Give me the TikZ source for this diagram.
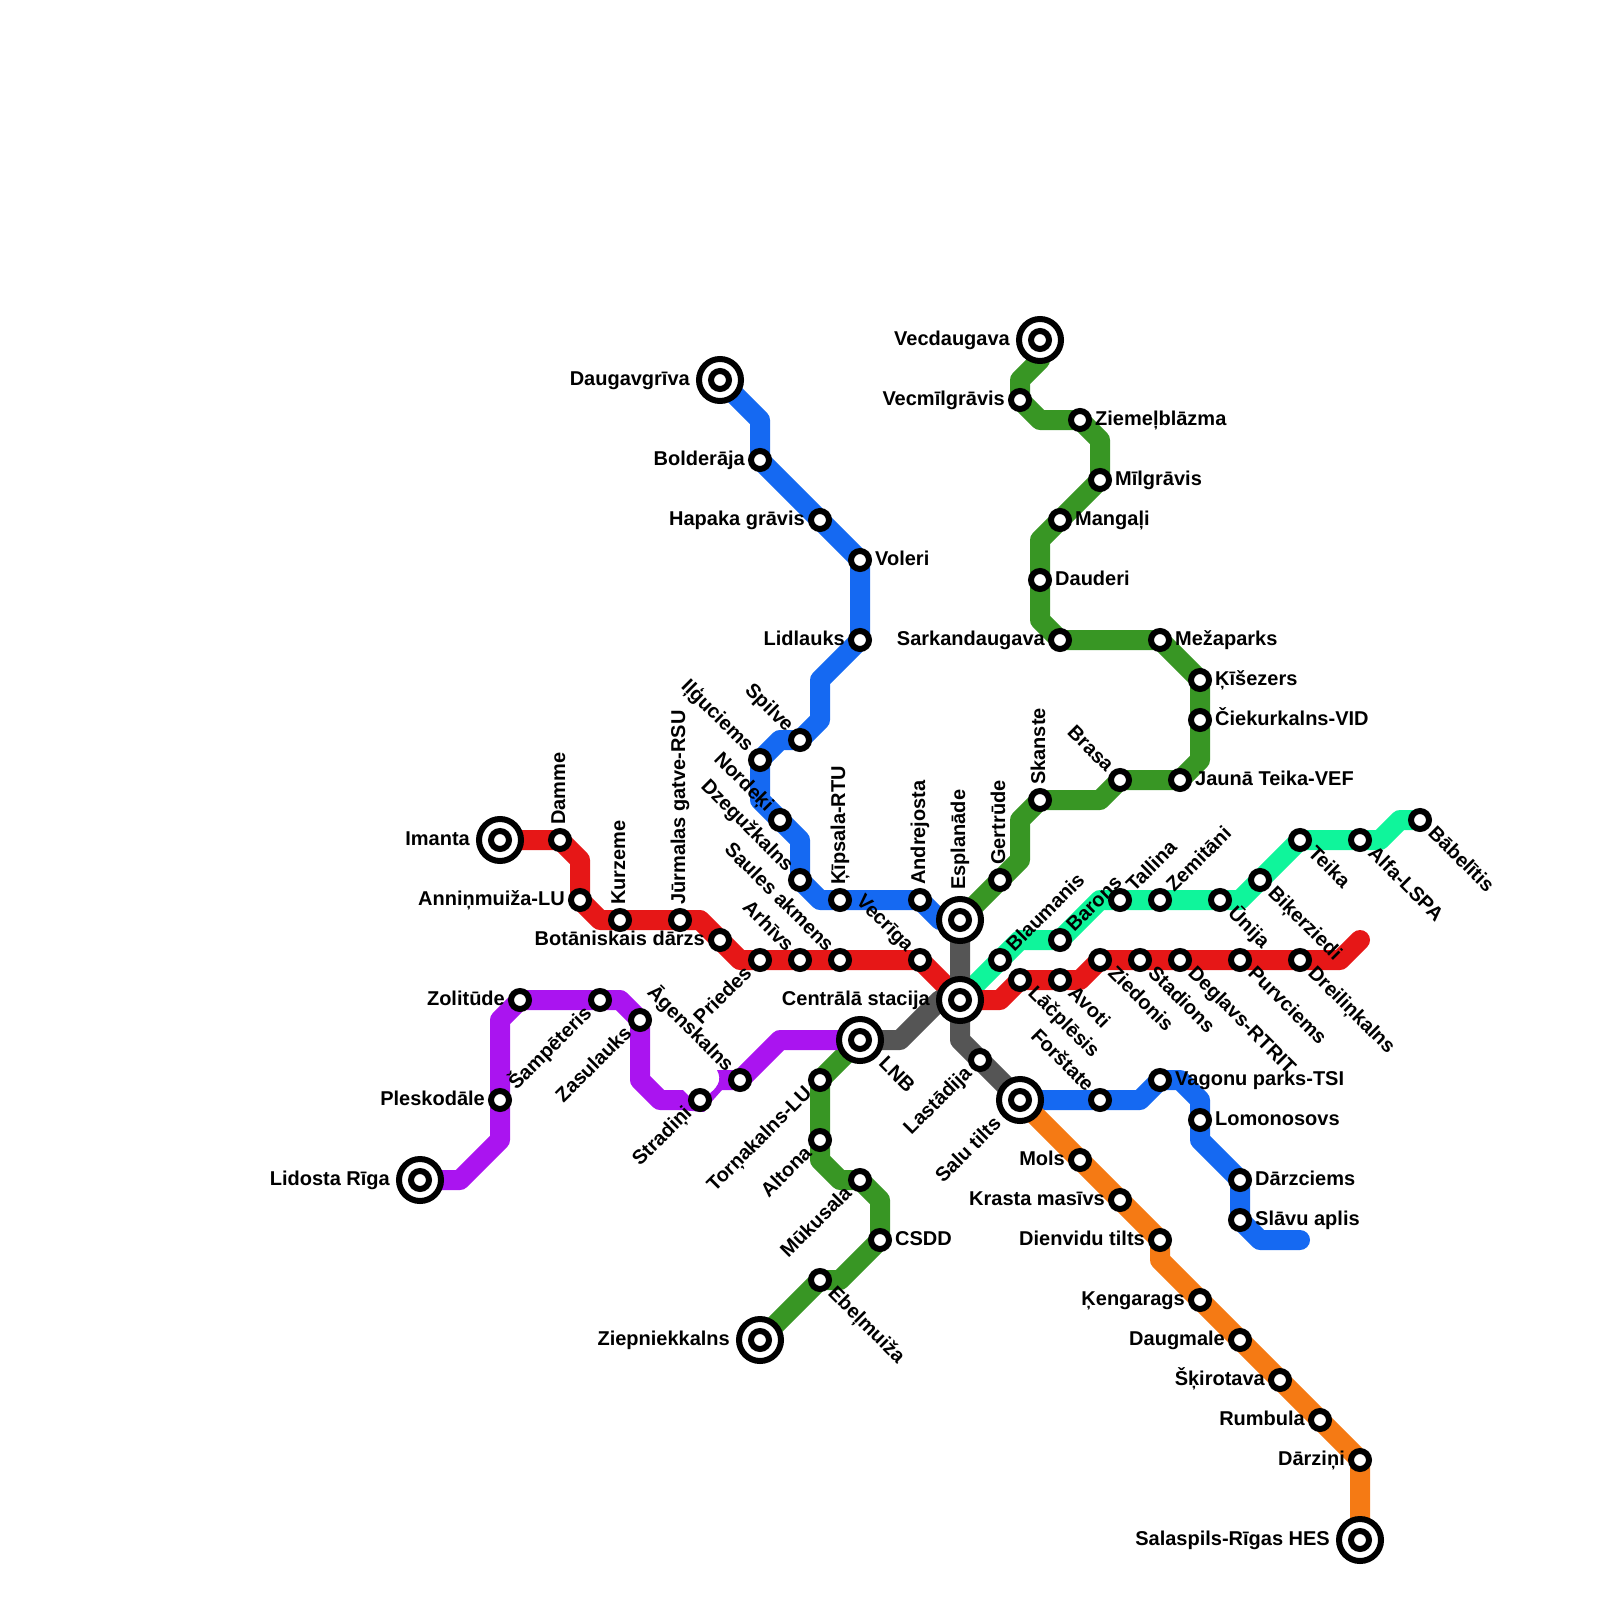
\documentclass[tikz,border=0pt]{standalone}
\usepackage{fontspec}
\setmainfont{Liberation Sans}
\usetikzlibrary{backgrounds}

\definecolor{linered}{HTML}{E61717}
\definecolor{lineblue}{HTML}{1569F2}
\definecolor{linegreen}{HTML}{389624}
\definecolor{lineteal}{HTML}{0FF59B}
\definecolor{linepurple}{HTML}{AA14F0}
\definecolor{lineorange}{HTML}{F57A14}
\definecolor{linegrey}{HTML}{555555}

\tikzset{
  metro/.style={line width=20pt, line join=round, line cap=round},
  stn/.style={circle, draw=black, fill=white, line width=6pt, inner sep=0pt, outer sep=0pt, minimum size=18pt},
  hub/.style={stn, minimum size=42pt, path picture={\draw[line width=6pt] (path picture bounding box.center) circle (9pt);}},
  lbl/.style={font=\bfseries\fontsize{20}{22}\selectfont, inner ysep=0pt, inner xsep=15pt, text height=14.5pt, text depth=4.5pt},
  lblE/.style={lbl, anchor=west},
  lblW/.style={lbl, anchor=east},
  lblN/.style={lbl, anchor=west, rotate=90},
  lblNE/.style={lbl, anchor=west, rotate=45},
  lblNW/.style={lbl, anchor=east, rotate=-45},
  lblSE/.style={lbl, anchor=west, rotate=-45},
  lblSW/.style={lbl, anchor=east, rotate=45},
}

\begin{document}
\begin{tikzpicture}[x=1pt, y=-1pt]
  \useasboundingbox (0,0) rectangle (1600,1600);

  % Red line stations
  \node[hub] (imanta) at (500,840) {}; \node[lblW, inner xsep=30pt] (imantaT) at (imanta) {Imanta};
  \node[stn] (damme) at (560,840) {}; \node[lblN] (dammeT) at (damme) {Damme};
  \node[stn] (anninmuiza) at (580,900) {}; \node[lblW] (anninmuizaT) at (anninmuiza) {Anniņmuiža-LU};
  \node[stn] (kurzeme) at (620,920) {}; \node[lblN] (kurzemeT) at (kurzeme) {Kurzeme};
  \node[stn] (jurmalas) at (680,920) {}; \node[lblN] (jurmalasT) at (jurmalas) {Jūrmalas gatve-RSU};
  \node[stn] (botaniskais) at (720,940) {}; \node[lblW] (botaniskaisT) at (botaniskais) {Botāniskais dārzs};
  \node[stn] (priedes) at (760,960) {}; \node[lblSW] (priedesT) at (priedes) {Priedes};
  \node[stn] (arhivs) at (800,960) {}; \node[lblNW] (arhivsT) at (arhivs) {Arhīvs};
  \node[stn] (saules) at (840,960) {}; \node[lblNW] (saulesT) at (saules) {Saules akmens};
  \node[stn] (vecriga) at (920,960) {}; \node[lblNW] (vecrigaT) at (vecriga) {Vecrīga};
  \node[hub] (centrala) at (960,1000) {}; \node[lblW, inner xsep=30pt] (centralaT) at (centrala) {Centrālā stacija};
  \node[stn] (lacplesis) at (1020,980) {}; \node[lblSE] (lacplesisT) at (lacplesis) {Lāčplēsis};
  \node[stn] (avoti) at (1060,980) {}; \node[lblSE] (avotiT) at (avoti) {Avoti};
  \node[stn] (ziedonis) at (1100,960) {}; \node[lblSE] (ziedonisT) at (ziedonis) {Ziedonis};
  \node[stn] (stadions) at (1140,960) {}; \node[lblSE] (stadionsT) at (stadions) {Stadions};
  \node[stn] (deglavs) at (1180,960) {}; \node[lblSE] (deglavsT) at (deglavs) {Deglavs-RTRIT};
  \node[stn] (purvciems) at (1240,960) {}; \node[lblSE] (purvciemsT) at (purvciems) {Purvciems};
  \node[stn] (dreilinkalns) at (1300,960) {}; \node[lblSE] (dreilinkalnsT) at (dreilinkalns) {Dreiliņkalns};
  \coordinate (redend) at (1360,940);

  % Blue line stations
  \node[hub] (daugavgriva) at (720,380) {}; \node[lblW, inner xsep=30pt] (daugavgrivaT) at (daugavgriva) {Daugavgrīva};
  \node[stn] (bolderaja) at (760,460) {}; \node[lblW] (bolderajaT) at (bolderaja) {Bolderāja};
  \node[stn] (hapaka) at (820,520) {}; \node[lblW] (hapakaT) at (hapaka) {Hapaka grāvis};
  \node[stn] (voleri) at (860,560) {}; \node[lblE] (voleriT) at (voleri) {Voleri};
  \node[stn] (lidlauks) at (860,640) {}; \node[lblW] (lidlauksT) at (lidlauks) {Lidlauks};
  \node[stn] (spilve) at (800,740) {}; \node[lblNW] (spilveT) at (spilve) {Spilve};
  \node[stn] (ilguciems) at (760,760) {}; \node[lblNW] (ilguciemsT) at (ilguciems) {Iļģuciems};
  \node[stn] (nordeki) at (780,820) {}; \node[lblNW] (nordekiT) at (nordeki) {Nordeķi};
  \node[stn] (dzeguzkalns) at (800,880) {}; \node[lblNW] (dzeguzkalnsT) at (dzeguzkalns) {Dzegužkalns};
  \node[stn] (kipsala) at (840,900) {}; \node[lblN] (kipsalaT) at (kipsala) {Ķīpsala-RTU};
  \node[stn] (andrejosta) at (920,900) {}; \node[lblN] (andrejostaT) at (andrejosta) {Andrejosta};
  \node[hub] (esplanade) at (960,920) {}; \node[lblN, inner xsep=30pt] (esplanadeT) at (esplanade) {Esplanāde};

  % Green line stations, north part
  \node[hub] (vecdaugava) at (1040,340) {}; \node[lblW, inner xsep=30pt] (vecdaugavaT) at (vecdaugava) {Vecdaugava};
  \node[stn] (vecmilgravis) at (1020,400) {}; \node[lblW] (vecmilgravisT) at (vecmilgravis) {Vecmīlgrāvis};
  \node[stn] (ziemelblazma) at (1080,420) {}; \node[lblE] (ziemelblazmaT) at (ziemelblazma) {Ziemeļblāzma};
  \node[stn] (milgravis) at (1100,480) {}; \node[lblE] (milgravisT) at (milgravis) {Mīlgrāvis};
  \node[stn] (mangali) at (1060,520) {}; \node[lblE] (mangaliT) at (mangali) {Mangaļi};
  \node[stn] (dauderi) at (1040,580) {}; \node[lblE] (dauderiT) at (dauderi) {Dauderi};
  \node[stn] (sarkandaugava) at (1060,640) {}; \node[lblW] (sarkandaugavaT) at (sarkandaugava) {Sarkandaugava};
  \node[stn] (mezaparks) at (1160,640) {}; \node[lblE] (mezaparksT) at (mezaparks) {Mežaparks};
  \node[stn] (kisezers) at (1200,680) {}; \node[lblE] (kisezersT) at (kisezers) {Ķīšezers};
  \node[stn] (ciekurkalns) at (1200,720) {}; \node[lblE] (ciekurkalnsT) at (ciekurkalns) {Čiekurkalns-VID};
  \node[stn] (jaunateika) at (1180,780) {}; \node[lblE] (jaunateikaT) at (jaunateika) {Jaunā Teika-VEF};
  \node[stn] (brasa) at (1120,780) {}; \node[lblNW] (brasaT) at (brasa) {Brasa};
  \node[stn] (skanste) at (1040,800) {}; \node[lblN] (skansteT) at (skanste) {Skanste};
  \node[stn] (gertrude) at (1000,880) {}; \node[lblN] (gertrudeT) at (gertrude) {Gertrūde};

  % Teal line stations
  \node[stn] (blaumanis) at (1000,960) {}; \node[lblNE] (blaumanisT) at (blaumanis) {Blaumanis};
  \node[stn] (barons) at (1060,940) {}; \node[lblNE] (baronsT) at (barons) {Barons};
  \node[stn] (tallina) at (1120,900) {}; \node[lblNE] (tallinaT) at (tallina) {Tallina};
  \node[stn] (zemitani) at (1160,900) {}; \node[lblNE] (zemitaniT) at (zemitani) {Zemitāni};
  \node[stn] (unija) at (1220,900) {}; \node[lblSE] (unijaT) at (unija) {Ūnija};
  \node[stn] (bikerziedi) at (1260,880) {}; \node[lblSE] (bikerziediT) at (bikerziedi) {Biķerziedi};
  \node[stn] (teika) at (1300,840) {}; \node[lblSE] (teikaT) at (teika) {Teika};
  \node[stn] (alfa) at (1360,840) {}; \node[lblSE] (alfaT) at (alfa) {Alfa-LSPA};
  \node[stn] (babelitis) at (1420,820) {}; \node[lblSE] (babelitisT) at (babelitis) {Bābelītis};

  % Purple line stations
  \node[hub] (lidosta) at (420,1180) {}; \node[lblW, inner xsep=30pt] (lidostaT) at (lidosta) {Lidosta Rīga};
  \node[stn] (pleskodale) at (500,1100) {}; \node[lblW] (pleskodaleT) at (pleskodale) {Pleskodāle};
  \node[stn] (zolitude) at (520,1000) {}; \node[lblW] (zolitudeT) at (zolitude) {Zolitūde};
  \node[stn] (sampeteris) at (600,1000) {}; \node[lblSW] (sampeterisT) at (sampeteris) {Šampēteris};
  \node[stn] (zasulauks) at (640,1020) {}; \node[lblSW] (zasulauksT) at (zasulauks) {Zasulauks};
  \node[stn] (stradini) at (700,1100) {}; \node[lblSW] (stradiniT) at (stradini) {Stradiņi};
  \node[stn] (agenskalns) at (740,1080) {}; \node[lblNW] (agenskalnsT) at (agenskalns) {Āgenskalns};
  \node[hub] (lnb) at (860,1040) {}; \node[lblSE, inner xsep=30pt] (lnbT) at (lnb) {LNB};

  % Green line stations, south part
  \node[stn] (tornakalns) at (820,1080) {}; \node[lblSW] (tornakalnsT) at (tornakalns) {Torņakalns-LU};
  \node[stn] (altona) at (820,1140) {}; \node[lblSW] (altonaT) at (altona) {Altona};
  \node[stn] (mukusala) at (860,1180) {}; \node[lblSW] (mukusalaT) at (mukusala) {Mūkusala};
  \node[stn] (csdd) at (880,1240) {}; \node[lblE] (csddT) at (csdd) {CSDD};
  \node[stn] (ebelmuiza) at (820,1280) {}; \node[lblSE] (ebelmuizaT) at (ebelmuiza) {Ebeļmuiža};
  \node[hub] (ziepniekkalns) at (760,1340) {}; \node[lblW, inner xsep=30pt] (ziepniekkalnsT) at (ziepniekkalns) {Ziepniekkalns};

  % Grey line and second blue line stations
  \node[stn] (lastadija) at (980,1060) {}; \node[lblSW] (lastadijaT) at (lastadija) {Lastādija};
  \node[hub] (salutilts) at (1020,1100) {}; \node[lblSW, inner xsep=30pt] (salutiltsT) at (salutilts) {Salu tilts};
  \node[stn] (forstate) at (1100,1100) {}; \node[lblNW] (forstateT) at (forstate) {Forštate};
  \node[stn] (vagonu) at (1160,1080) {}; \node[lblE] (vagonuT) at (vagonu) {Vagonu parks-TSI};
  \node[stn] (lomonosovs) at (1200,1120) {}; \node[lblE] (lomonosovsT) at (lomonosovs) {Lomonosovs};
  \node[stn] (darzciems) at (1240,1180) {}; \node[lblE] (darzciemsT) at (darzciems) {Dārzciems};
  \node[stn] (slavu) at (1240,1220) {}; \node[lblE] (slavuT) at (slavu) {Slāvu aplis};
  \coordinate (blueend) at (1300,1240);

  % Orange line stations
  \node[stn] (mols) at (1080,1160) {}; \node[lblW] (molsT) at (mols) {Mols};
  \node[stn] (krasta) at (1120,1200) {}; \node[lblW] (krastaT) at (krasta) {Krasta masīvs};
  \node[stn] (dienvidu) at (1160,1240) {}; \node[lblW] (dienviduT) at (dienvidu) {Dienvidu tilts};
  \node[stn] (kengarags) at (1200,1300) {}; \node[lblW] (kengaragsT) at (kengarags) {Ķengarags};
  \node[stn] (daugmale) at (1240,1340) {}; \node[lblW] (daugmaleT) at (daugmale) {Daugmale};
  \node[stn] (skirotava) at (1280,1380) {}; \node[lblW] (skirotavaT) at (skirotava) {Šķirotava};
  \node[stn] (rumbula) at (1320,1420) {}; \node[lblW] (rumbulaT) at (rumbula) {Rumbula};
  \node[stn] (darzini) at (1360,1460) {}; \node[lblW] (darziniT) at (darzini) {Dārziņi};
  \node[hub] (salaspils) at (1360,1540) {}; \node[lblW, inner xsep=30pt] (salaspilsT) at (salaspils) {Salaspils-Rīgas HES};

  \begin{pgfonlayer}{background}
    % Teal line
    \draw[metro, lineteal] (centrala.center) -- (blaumanis.center) -- (1020,940) -- (barons.center) -- (1100,900) -- (unija.center) -- (1240,900) -- (teika.center) -- (1380,840) -- (1400,820) -- (babelitis.center);

    % Red line
    \draw[metro, linered] (imanta.center) -- (damme.center) -- (580,860) -- (anninmuiza.center) -- (600,920) -- (700,920) -- (740,960) -- (vecriga.center) -- (centrala.center) -- (1000,1000) -- (lacplesis.center) -- (1080,980) -- (ziedonis.center) -- (1340,960) -- (redend);

    % Blue lines
    \draw[metro, lineblue] (daugavgriva.center) -- (760,420) -- (bolderaja.center) -- (voleri.center) -- (lidlauks.center) -- (820,680) -- (820,720) -- (spilve.center) -- (780,740) -- (ilguciems.center) -- (760,800) -- (800,840) -- (dzeguzkalns.center) -- (820,900) -- (andrejosta.center) -- (940,920) -- (esplanade.center);
    \draw[metro, lineblue] (salutilts.center) -- (1140,1100) -- (vagonu.center) -- (1180,1080) -- (1200,1100) -- (1200,1140) -- (darzciems.center) -- (slavu.center) -- (1260,1240) -- (blueend);

    % Green lines
    \draw[metro, linegreen] (vecdaugava.center) -- (1040,360) -- (1020,380) -- (vecmilgravis.center) -- (1040,420) -- (1080,420) -- (1100,440) -- (milgravis.center) -- (1040,540) -- (1040,620) -- (sarkandaugava.center) -- (mezaparks.center) -- (kisezers.center) -- (1200,760) -- (jaunateika.center) -- (brasa.center) -- (1100,800) -- (skanste.center) -- (1020,820) -- (1020,860) -- (esplanade.center);
    \draw[metro, linegreen] (lnb.center) -- (tornakalns.center) -- (820,1160) -- (840,1180) -- (mukusala.center) -- (880,1200) -- (csdd.center) -- (840,1280) -- (ebelmuiza.center) -- (ziepniekkalns.center);

    % Purple line, it breaks up between Stradini and Agenskalns
    \draw[metro, linepurple, line cap=butt] (lidosta.center) -- (460,1180) -- (500,1140) -- (500,1020) -- (zolitude.center) -- (620,1000) -- (640,1020) -- (640,1080) -- (660,1100) -- (680,1100);
    \fill[linepurple] (680,1090) -- (683,1090) -- (705,1112) -- (680,1110) -- cycle;
    \fill[linepurple] (717,1070) .. controls (722,1080) and (720,1088) .. (700,1100) -- (706,1108) -- (722,1090) -- (745,1090) -- (745,1070) -- cycle;
    \draw[metro, linepurple] (agenskalns.center) -- (780,1040) -- (lnb.center);

    % Orange line
    \draw[metro, lineorange] (salutilts.center) -- (dienvidu.center) -- (1160,1260) -- (darzini.center) -- (salaspils.center);

    % Grey line
    \draw[metro, linegrey] (esplanade.center) -- (960,1040) -- (salutilts.center);
    \draw[metro, linegrey] (lnb.center) -- (900,1040) -- (940,1000) -- (centrala.center);
  \end{pgfonlayer}
\end{tikzpicture}
\end{document}
